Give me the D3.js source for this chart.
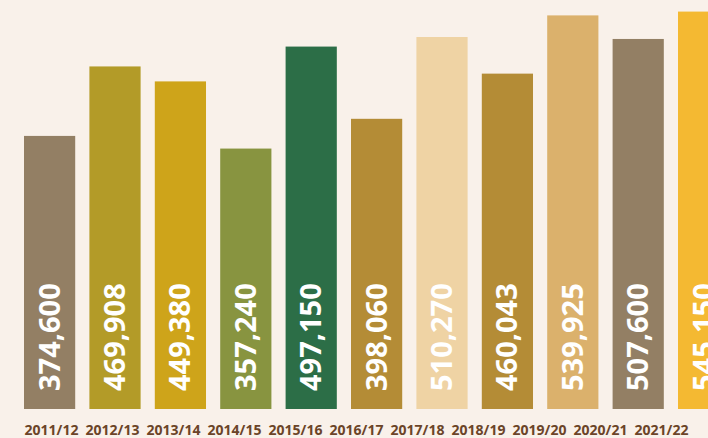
<!DOCTYPE html>
<html>
<head>
<meta charset="utf-8">
<script src="https://cdn.jsdelivr.net/npm/d3@7"></script>
<style>
html, body { margin: 0; padding: 0; background: #f9f1ea; }
svg { display: block; }
</style>
</head>
<body>
<svg id="chart" width="708" height="438"></svg>
<script>
const categories = ["2011/12","2012/13","2013/14","2014/15","2015/16","2016/17","2017/18","2018/19","2019/20","2020/21","2021/22"];
const values = [374600, 469908, 449380, 357240, 497150, 398060, 510270, 460043, 539925, 507600, 545150];
const colors = ["#937f64","#b39b28","#cea41a","#889440","#2c6e47","#b48c36","#efd3a4","#b48c36","#dbb16c","#937f64","#f4b932"];

const svg = d3.select("#chart");
const W = 708, H = 438;
svg.append("rect").attr("width", W).attr("height", H).attr("fill", "#f9f1ea");

const step = 65.4;
const pInner = 0.217;
const x = d3.scaleBand().domain(categories)
  .range([24, 24 + step * (categories.length - pInner)])
  .paddingInner(pInner).paddingOuter(0);

const xl = d3.scalePoint().domain(categories).range([51, 661]);

const y = d3.scaleLinear().domain([0, 560000]).range([409, 409 - 560000 * 0.000729]);

const data = categories.map((c, i) => ({c, v: values[i], col: colors[i]}));

svg.append("g").selectAll("rect").data(data).join("rect")
  .attr("x", d => x(d.c))
  .attr("y", d => y(d.v))
  .attr("width", x.bandwidth())
  .attr("height", d => y(0) - y(d.v))
  .attr("fill", d => d.col);

const fmt = d3.format(",");
svg.append("g").selectAll("text").data(data).join("text")
  .attr("transform", d => `translate(${x(d.c) + x.bandwidth() / 2 + 10},391) rotate(-90)`)
  .attr("text-anchor", "start")
  .attr("fill", "#ffffff")
  .attr("font-family", "'Open Sans', sans-serif")
  .attr("font-weight", "bold")
  .attr("font-size", "29px")
  .text(d => fmt(d.v));

const xAxis = d3.axisBottom(xl).tickSize(0).tickPadding(0);
const ax = svg.append("g").attr("transform", "translate(0,424)").call(xAxis);
ax.select(".domain").remove();
ax.selectAll("text")
  .attr("fill", "#6b4428")
  .attr("font-family", "'Open Sans', sans-serif")
  .attr("font-weight", "bold")
  .attr("font-size", "14px")
  .attr("dy", "0.76em");
</script>
</body>
</html>
